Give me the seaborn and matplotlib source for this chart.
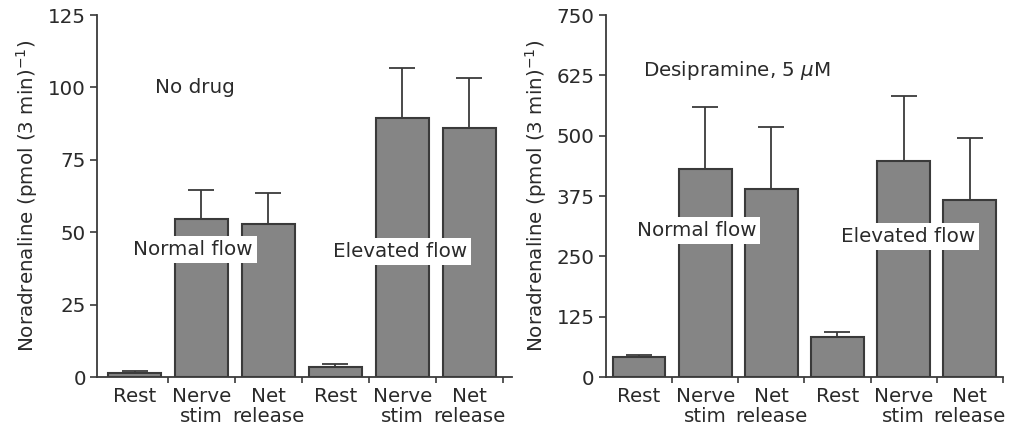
import numpy as np
import pandas as pd
import matplotlib
matplotlib.use("Agg")
import matplotlib.pyplot as plt
import seaborn as sns
from matplotlib.ticker import FixedLocator

# categories (two flow conditions x three measurements)
keys = ["rest_n", "stim_n", "net_n", "rest_e", "stim_e", "net_e"]
tick_labels = ["Rest", "Nerve\nstim", "Net\nrelease",
               "Rest", "Nerve\nstim", "Net\nrelease"]

# No drug panel
nodrug_mean = [1.3, 54.6, 52.8, 3.6, 89.4, 86.1]
nodrug_upper = [2.0, 64.7, 63.5, 4.5, 106.6, 103.2]

# Desipramine panel
desi_mean = [42, 431, 389, 83, 448, 366]
desi_upper = [45.6, 559, 518, 92.6, 583, 496]

ylabel = "Noradrenaline (pmol (3 min)$^{-1}$)"

sns.set_style("ticks")
plt.rcParams["font.family"] = ["DejaVu Sans"]

BAR_COLOR = "#858585"
EDGE = "#3a3a3a"
TXT = "#2a2a2a"
FS = 14.3


def draw_panel(ax, means, upper, ymax, yticks, xlim):
    df = pd.DataFrame({"key": keys, "value": means})
    sns.barplot(data=df, x="key", y="value", order=keys, ax=ax,
                color=BAR_COLOR, edgecolor=EDGE, linewidth=1.5,
                width=0.8, errorbar=None, saturation=1)
    err = np.array(upper) - np.array(means)
    ax.errorbar(np.arange(len(keys)), means,
                yerr=[np.zeros(len(keys)), err], fmt="none",
                ecolor=EDGE, elinewidth=1.3, capsize=9.5, capthick=1.3,
                zorder=1)
    ax.set_ylim(0, ymax)
    ax.set_xlim(*xlim)
    ax.set_yticks(yticks)
    ax.set_xticks(np.arange(len(keys)))
    ax.set_xticklabels(tick_labels, fontsize=FS, color=TXT,
                       linespacing=1.05)
    ax.xaxis.set_minor_locator(FixedLocator(np.arange(0.5, 6.0, 1.0)))
    ax.tick_params(axis="x", which="major", length=0, pad=7)
    ax.tick_params(axis="x", which="minor", length=4, width=1.2,
                   color=EDGE, direction="out")
    ax.tick_params(axis="y", labelsize=FS, length=5, width=1.2,
                   color=EDGE, labelcolor=TXT, pad=3)
    ax.set_xlabel("")
    ax.set_ylabel(ylabel, fontsize=FS, color=TXT, labelpad=6)
    for s in ["left", "bottom"]:
        ax.spines[s].set_color(EDGE)
        ax.spines[s].set_linewidth(1.3)
    sns.despine(ax=ax)


fig = plt.figure(figsize=(10.15, 4.29), dpi=100)
ax1 = fig.add_axes([0.0956, 0.121, 0.409, 0.844])
ax2 = fig.add_axes([0.597, 0.121, 0.391, 0.844])

draw_panel(ax1, nodrug_mean, nodrug_upper, 125,
           [0, 25, 50, 75, 100, 125], (-0.56, 5.64))
draw_panel(ax2, desi_mean, desi_upper, 750,
           [0, 125, 250, 375, 500, 625, 750], (-0.5, 5.5))

box = dict(boxstyle="square,pad=0.2", facecolor="white",
           edgecolor="none")
ax1.text(0.31, 100, "No drug", fontsize=FS, color=TXT,
         ha="left", va="center")
ax1.text(0.87, 43.9, "Normal flow", fontsize=FS, color=TXT,
         ha="center", va="center", bbox=box, zorder=5)
ax1.text(3.97, 43.2, "Elevated flow", fontsize=FS, color=TXT,
         ha="center", va="center", bbox=box, zorder=5)

ax2.text(0.06, 636, "Desipramine, 5 $\\mu$M", fontsize=FS, color=TXT,
         ha="left", va="center")
ax2.text(0.87, 304, "Normal flow", fontsize=FS, color=TXT,
         ha="center", va="center", bbox=box, zorder=5)
ax2.text(4.07, 292, "Elevated flow", fontsize=FS, color=TXT,
         ha="center", va="center", bbox=box, zorder=5)

fig.savefig("out.png", dpi=100)
